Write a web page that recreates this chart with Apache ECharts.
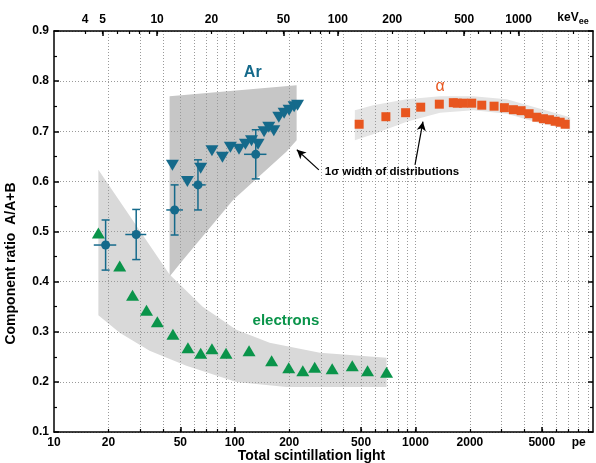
<!DOCTYPE html>
<html>
<head>
<meta charset="utf-8">
<script src="https://cdn.jsdelivr.net/npm/echarts@6/dist/echarts.min.js"></script>
<style>
  html, body { margin: 0; padding: 0; background: #fff; }
  #chart { width: 596px; height: 463px; }
</style>
</head>
<body>
<div id="chart"></div>
<script>
// values (x in pe, y is A/(A+B))
const elecPe = [17.6, 23.1, 27.2, 32.5, 37.3, 45.5, 55.1, 64.8, 74.8, 89.5, 120, 160, 199, 238, 277, 346, 447, 543, 692];
const elecRatio = [0.497, 0.431, 0.373, 0.343, 0.320, 0.295, 0.268, 0.257, 0.266, 0.257, 0.262, 0.242, 0.228, 0.222, 0.229, 0.226, 0.232, 0.222, 0.219];

const arTriPe = [45.2, 54.7, 64.8, 74.8, 85.5, 94.6, 105.6, 114.6, 123.8, 134.6, 145.3, 154.3, 164.5, 175.3, 187.6, 199.9, 213.1, 222.6];
const arTriRatio = [0.632, 0.600, 0.626, 0.661, 0.648, 0.668, 0.664, 0.674, 0.681, 0.674, 0.699, 0.708, 0.701, 0.728, 0.736, 0.742, 0.749, 0.752];

const arPe = [19.3, 28.5, 46.5, 62.6, 130.7];
const arPeLo = [16.6, 24.8, 41.8, 58.0, 112.6];
const arPeHi = [22.1, 32.4, 51.7, 69.1, 149.8];
const arRatio = [0.473, 0.494, 0.543, 0.593, 0.654];
const arRatioErr = [0.050, 0.050, 0.050, 0.050, 0.049];

const alphaPe = [488, 686, 882, 1069, 1355, 1620, 1704, 1840, 2048, 2327, 2722, 3105, 3482, 3842, 4254, 4694, 5105, 5511, 5929, 6319, 6734];
const alphaRatio = [0.714, 0.729, 0.737, 0.748, 0.754, 0.757, 0.756, 0.756, 0.756, 0.752, 0.750, 0.747, 0.743, 0.741, 0.735, 0.728, 0.725, 0.723, 0.720, 0.718, 0.714];

// 1 sigma bands, as outlines [pe, ratio]
const arBand = [[43.6, 0.410], [43.6, 0.770], [220, 0.792], [220, 0.682], [193, 0.659], [97.9, 0.563], [51.7, 0.443]];
const elecBand = [[17.6, 0.623], [43.6, 0.414], [66.5, 0.350], [102, 0.304], [156, 0.278], [296, 0.258], [692, 0.248],
  [692, 0.190], [193, 0.190], [102, 0.200], [54, 0.232], [33.8, 0.262], [23.1, 0.298], [17.6, 0.333]];
const alphaBand = [[462, 0.742], [583, 0.752], [894, 0.764], [1367, 0.770], [2090, 0.770], [3201, 0.764], [4898, 0.745], [7178, 0.728],
  [7178, 0.703], [4898, 0.716], [3201, 0.735], [2090, 0.742], [1367, 0.737], [894, 0.719], [583, 0.694], [462, 0.682]];

// axes
const peLabels = [10, 20, 50, 100, 200, 500, 1000, 2000, 5000, 8000];
const peMinor = [20, 30, 40, 50, 60, 70, 80, 90, 100, 200, 300, 400, 500, 600, 700, 800, 900, 1000, 2000, 3000, 4000, 5000, 6000, 7000, 8000, 9000];
const peMajor = [50, 100, 500, 1000, 5000];
const keVLabels = [4, 5, 10, 20, 50, 100, 200, 500, 1000, 2000];
const keVMinor = [4, 5, 6, 7, 8, 9, 10, 20, 30, 40, 50, 60, 70, 80, 90, 100, 200, 300, 400, 500, 600, 700, 800, 900, 1000, 2000];
const keVMajor = [5, 10, 50, 100, 500, 1000];
const PE_MIN = 10, PE_MAX = 9600, PE_PER_KEV = 3.72;

const FONT = '"Liberation Sans", Arial, sans-serif';
const BLUE = '#156a8b', GREEN = '#0a944a', ORANGE = '#e8561f';
const lx = v => Math.log10(v);

function bandSeries(pts, color) {
  return {
    type: 'custom',
    z: -1,
    silent: true,
    data: [[lx(pts[0][0]), pts[0][1]]],
    renderItem(params, api) {
      if (params.dataIndex !== 0) return;
      const points = pts.map(p => api.coord([lx(p[0]), p[1]]));
      return { type: 'polygon', shape: { points }, style: { fill: color } };
    }
  };
}

const chart = echarts.init(document.getElementById('chart'), null, { renderer: 'canvas' });

const labelStyle = { fontSize: 12, fontWeight: 'bold', color: '#000', fontFamily: FONT };
const titleStyle = { fontSize: 14, fontWeight: 'bold', color: '#000', fontFamily: FONT };

chart.setOption({
  animation: false,
  grid: { left: 54, right: 3, top: 31, bottom: 31, containLabel: false, outerBoundsMode: 'none' },
  xAxis: [
    {
      type: 'value', position: 'bottom', min: lx(PE_MIN), max: lx(PE_MAX),
      axisLine: { lineStyle: { color: '#000', width: 1.5 } },
      axisTick: { inside: true, length: 3, customValues: peMinor.map(lx), lineStyle: { color: '#000', width: 1.2 } },
      axisLabel: Object.assign({
        customValues: peLabels.map(lx), margin: 5,
        formatter: v => { const p = Math.round(Math.pow(10, v)); return p === 8000 ? 'pe' : String(p); }
      }, labelStyle),
      splitLine: { show: true, lineStyle: { color: '#9a9a9a', width: 1, type: [1, 2] } },
      name: 'Total scintillation light', nameLocation: 'middle', nameGap: 17, nameMoveOverlap: false,
      nameTextStyle: Object.assign({ padding: [0, 24, 0, 0] }, titleStyle)
    },
    {
      type: 'value', position: 'bottom', min: lx(PE_MIN), max: lx(PE_MAX),
      axisLine: { show: false },
      axisTick: { inside: true, length: 5, customValues: peMajor.map(lx), lineStyle: { color: '#000', width: 1.5 } },
      axisLabel: { show: false }, splitLine: { show: false }
    },
    {
      type: 'value', position: 'top', min: lx(PE_MIN / PE_PER_KEV), max: lx(PE_MAX / PE_PER_KEV),
      axisLine: { lineStyle: { color: '#000', width: 1.5 } },
      axisTick: { inside: true, length: 3, customValues: keVMinor.map(lx), lineStyle: { color: '#000', width: 1.2 } },
      axisLabel: Object.assign({
        customValues: keVLabels.map(lx), margin: 5,
        formatter: v => { const k = Math.round(Math.pow(10, v)); return k === 2000 ? '{a|keV}{b|ee}' : String(k); },
        rich: {
          a: { fontSize: 12, fontWeight: 'bold', color: '#000', fontFamily: FONT },
          b: { fontSize: 9, fontWeight: 'bold', color: '#000', fontFamily: FONT, padding: [7, 0, 0, 0] }
        }
      }, labelStyle),
      splitLine: { show: false }
    },
    {
      type: 'value', position: 'top', min: lx(PE_MIN / PE_PER_KEV), max: lx(PE_MAX / PE_PER_KEV),
      axisLine: { show: false },
      axisTick: { inside: true, length: 5, customValues: keVMajor.map(lx), lineStyle: { color: '#000', width: 1.5 } },
      axisLabel: { show: false }, splitLine: { show: false }
    }
  ],
  yAxis: [
    {
      type: 'value', position: 'left', min: 0.1, max: 0.9, interval: 0.1,
      axisLine: { show: true, lineStyle: { color: '#000', width: 1.5 } },
      axisTick: { show: true, inside: true, length: 5, lineStyle: { color: '#000', width: 1.5 } },
      minorTick: { show: true, splitNumber: 2, length: 3, lineStyle: { color: '#000', width: 1.2 } },
      axisLabel: Object.assign({ margin: 5, formatter: v => v.toFixed(1) }, labelStyle),
      splitLine: { show: true, lineStyle: { color: '#9a9a9a', width: 1, type: [1, 2] } },
      name: 'Component ratio  A/A+B', nameLocation: 'middle', nameGap: 36, nameMoveOverlap: false,
      nameTextStyle: Object.assign({ padding: [0, 64, 0, 0] }, titleStyle)
    },
    {
      type: 'value', position: 'right', min: 0.1, max: 0.9, interval: 0.1,
      axisLine: { show: true, lineStyle: { color: '#000', width: 1.5 } },
      axisTick: { show: true, inside: true, length: 5, lineStyle: { color: '#000', width: 1.5 } },
      minorTick: { show: true, splitNumber: 2, length: 3, lineStyle: { color: '#000', width: 1.2 } },
      axisLabel: { show: false }, splitLine: { show: false }
    }
  ],
  series: [
    bandSeries(elecBand, '#d9d9d9'),
    bandSeries(alphaBand, '#e4e4e4'),
    bandSeries(arBand, '#c6c6c6'),
    {
      name: 'electrons', type: 'scatter', symbol: 'triangle', symbolSize: [13, 11],
      itemStyle: { color: GREEN, opacity: 1 },
      data: elecPe.map((p, i) => [lx(p), elecRatio[i]])
    },
    {
      name: 'Ar', type: 'scatter', symbol: 'triangle', symbolRotate: 180, symbolSize: [13, 11],
      itemStyle: { color: BLUE, opacity: 1 },
      data: arTriPe.map((p, i) => [lx(p), arTriRatio[i]])
    },
    {
      name: 'Ar error bars', type: 'custom', z: 3,
      data: arPe.map((p, i) => [lx(p), arRatio[i], lx(arPeLo[i]), lx(arPeHi[i]), arRatio[i] - arRatioErr[i], arRatio[i] + arRatioErr[i]]),
      renderItem(params, api) {
        const x = api.value(0), y = api.value(1);
        const left = api.coord([api.value(2), y]);
        const right = api.coord([api.value(3), y]);
        const low = api.coord([x, api.value(4)]);
        const high = api.coord([x, api.value(5)]);
        const st = { stroke: BLUE, lineWidth: 1.5 };
        const cap = 4;
        return {
          type: 'group',
          children: [
            { type: 'line', shape: { x1: left[0], y1: left[1], x2: right[0], y2: right[1] }, style: st },
            { type: 'line', shape: { x1: low[0], y1: low[1], x2: high[0], y2: high[1] }, style: st },
            { type: 'line', shape: { x1: low[0] - cap, y1: low[1], x2: low[0] + cap, y2: low[1] }, style: st },
            { type: 'line', shape: { x1: high[0] - cap, y1: high[1], x2: high[0] + cap, y2: high[1] }, style: st }
          ]
        };
      }
    },
    {
      name: 'Ar mean', type: 'scatter', symbol: 'circle', symbolSize: 9, z: 4,
      itemStyle: { color: BLUE, opacity: 1 },
      data: arPe.map((p, i) => [lx(p), arRatio[i]])
    },
    {
      name: 'alpha', type: 'scatter', symbol: 'rect', symbolSize: 9,
      itemStyle: { color: ORANGE, opacity: 1 },
      data: alphaPe.map((p, i) => [lx(p), alphaRatio[i]])
    },
    {
      name: 'notes', type: 'scatter', symbolSize: 0, silent: true, z: 5,
      itemStyle: { opacity: 1 },
      label: { show: true, position: 'inside', fontFamily: FONT, fontWeight: 'bold' },
      data: [
        { value: [lx(125.8), 0.817], label: { formatter: 'Ar', color: BLUE, fontSize: 16 } },
        { value: [lx(1367), 0.789], label: { formatter: 'α', color: ORANGE, fontSize: 16, fontWeight: 'normal' } },
        { value: [lx(192), 0.322], label: { formatter: 'electrons', color: GREEN, fontSize: 15 } },
        { value: [lx(741), 0.619], label: { formatter: '1σ width of distributions', color: '#000', fontSize: 11.5 } }
      ],
      markLine: {
        silent: true, symbol: ['none', 'arrow'], symbolSize: [7, 9],
        label: { show: false },
        lineStyle: { color: '#000', width: 1.2, type: 'solid' },
        data: [
          [{ coord: [lx(292), 0.623] }, { coord: [lx(220.6), 0.663] }],
          [{ coord: [lx(994), 0.633] }, { coord: [lx(1100), 0.719] }]
        ]
      }
    }
  ]
});
</script>
</body>
</html>
